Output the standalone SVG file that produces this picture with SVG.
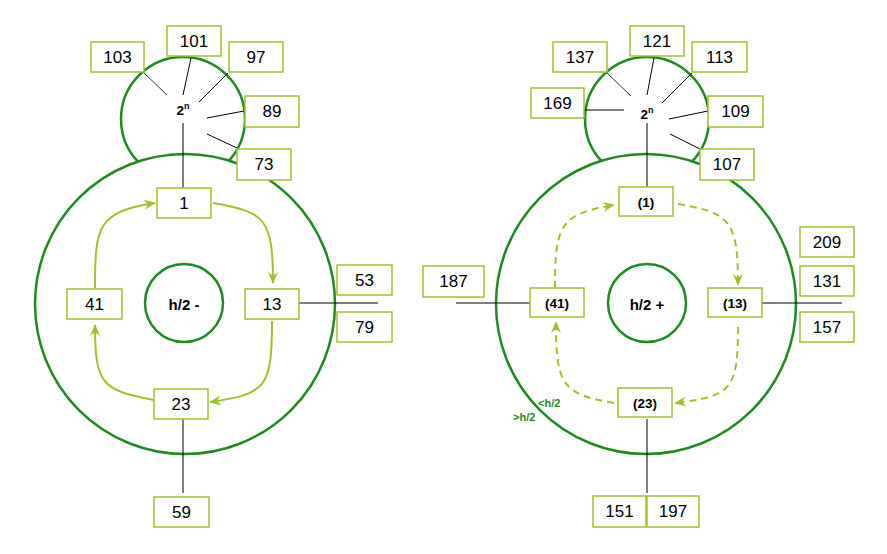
<svg xmlns="http://www.w3.org/2000/svg" width="887" height="554" viewBox="0 0 887 554">
<style>
.bg{fill:#ffffff}
.ring{fill:#ffffff;stroke:#1f8a1f;stroke-width:2.5}
.box{fill:#ffffff;stroke:#9dc32c;stroke-width:1.5}
.t{font-family:"Liberation Sans",Arial,sans-serif;font-size:17px;fill:#000;text-anchor:middle;dominant-baseline:central}
.tb{font-family:"Liberation Sans",Arial,sans-serif;font-size:13.5px;font-weight:bold;fill:#000;text-anchor:middle;dominant-baseline:central}
.hl{font-family:"Liberation Sans",Arial,sans-serif;font-size:15px;font-weight:bold;fill:#000;text-anchor:middle;dominant-baseline:central}
.lim{font-family:"Liberation Sans",Arial,sans-serif;font-size:11px;font-weight:bold;fill:#1f8a1f}
.ln{stroke:#000;stroke-width:1;fill:none}
.lg{stroke:#333;stroke-width:1;fill:none}
.arr{stroke:#9dc32c;stroke-width:2;fill:none;marker-end:url(#ah)}
.arrd{stroke:#9dc32c;stroke-width:2;fill:none;stroke-dasharray:7,5;marker-end:url(#ah)}
</style>
<defs>
<marker id="ah" viewBox="0 0 12 10" refX="11" refY="5" markerWidth="12" markerHeight="10" markerUnits="userSpaceOnUse" orient="auto">
<path d="M0,0 L12,5 L0,10 L4,5 Z" fill="#9dc32c"/>
</marker>
</defs>
<rect class="bg" x="0" y="0" width="887" height="554"/>

<g id="left-rings">
<circle class="ring" cx="183" cy="119" r="62"/>
<circle class="ring" cx="185" cy="304" r="150"/>
<circle class="ring" cx="184" cy="303" r="39"/>
</g>
<g id="right-rings">
<circle class="ring" cx="647" cy="119" r="62"/>
<circle class="ring" cx="646" cy="304" r="150"/>
<circle class="ring" cx="647" cy="303" r="39"/>
</g>

<g id="connectors">
<line class="lg" x1="143" y1="72" x2="167" y2="95"/>
<line class="ln" x1="191" y1="58" x2="183" y2="95"/>
<line class="ln" x1="228" y1="73" x2="199" y2="102"/>
<line class="ln" x1="244" y1="111" x2="207" y2="118"/>
<line class="ln" x1="237" y1="148" x2="207" y2="134"/>
<line class="ln" x1="183" y1="123" x2="183" y2="188"/>
<line class="ln" x1="299" y1="303" x2="378" y2="303"/>
<line class="ln" x1="183" y1="419" x2="183" y2="493"/>
<line class="lg" x1="606" y1="72" x2="631" y2="96"/>
<line class="ln" x1="654" y1="58" x2="647" y2="95"/>
<line class="ln" x1="692" y1="73" x2="662" y2="103"/>
<line class="ln" x1="584" y1="110" x2="624" y2="110"/>
<line class="ln" x1="708" y1="111" x2="669" y2="119"/>
<line class="ln" x1="700" y1="149" x2="670" y2="134"/>
<line class="ln" x1="647" y1="123" x2="647" y2="188"/>
<line class="ln" x1="456" y1="303" x2="530" y2="303"/>
<line class="ln" x1="762" y1="303" x2="842" y2="303"/>
<line class="ln" x1="647" y1="419" x2="647" y2="493"/>
<path class="arr" d="M95,288 C95,225 98,212 155,203"/>
<path class="arr" d="M213,203 C265,212 273,218 273,283"/>
<path class="arr" d="M272,321 C272,388 266,394 210,402"/>
<path class="arr" d="M154,400 C102,390 95,385 95,325"/>
<path class="arrd" d="M555,288 C555,225 560,214 614,205"/>
<path class="arrd" d="M678,204 C730,213 738,220 738,285"/>
<path class="arrd" d="M738,327 C738,392 730,396 675,403"/>
<path class="arrd" d="M614,403 C562,394 556,385 556,322"/>
</g>

<g id="left-power">
<text x="183" y="110" class="tb">2<tspan font-size="9" dy="-4">n</tspan></text>
</g>
<g id="right-power">
<text x="647" y="114" class="tb">2<tspan font-size="9" dy="-4">n</tspan></text>
</g>

<g id="n103"><rect class="box" x="91" y="42" width="53" height="30"/><text class="t" x="117.5" y="57">103</text></g>
<g id="n101"><rect class="box" x="167" y="26" width="54" height="30"/><text class="t" x="194" y="41">101</text></g>
<g id="n97"><rect class="box" x="229" y="42" width="54" height="30"/><text class="t" x="256" y="57">97</text></g>
<g id="n89"><rect class="box" x="245" y="96" width="54" height="31"/><text class="t" x="272" y="111.5">89</text></g>
<g id="n73"><rect class="box" x="237" y="149" width="54" height="31"/><text class="t" x="264" y="164.5">73</text></g>

<g id="n1"><rect class="box" x="157" y="188" width="54" height="30"/><text class="t" x="184" y="203">1</text></g>
<g id="n41"><rect class="box" x="67" y="289" width="55" height="30"/><text class="t" x="94.5" y="304">41</text></g>
<g id="n13"><rect class="box" x="245" y="289" width="54" height="30"/><text class="t" x="272" y="304">13</text></g>
<g id="n23"><rect class="box" x="154" y="389" width="54" height="30"/><text class="t" x="181" y="404">23</text></g>
<g id="n53"><rect class="box" x="337" y="265" width="55" height="30"/><text class="t" x="364.5" y="280">53</text></g>
<g id="n79"><rect class="box" x="337" y="312" width="55" height="30"/><text class="t" x="364.5" y="327">79</text></g>
<g id="n59"><rect class="box" x="154" y="497" width="55" height="30"/><text class="t" x="181.5" y="512">59</text></g>
<g id="hminus"><text class="hl" x="184" y="304">h/2 -</text></g>

<g id="n137"><rect class="box" x="553" y="42" width="54" height="30"/><text class="t" x="580" y="57">137</text></g>
<g id="n121"><rect class="box" x="630" y="26" width="54" height="30"/><text class="t" x="657" y="41">121</text></g>
<g id="n113"><rect class="box" x="692" y="42" width="55" height="30"/><text class="t" x="719.5" y="57">113</text></g>
<g id="n169"><rect class="box" x="531" y="88" width="53" height="30"/><text class="t" x="557.5" y="103">169</text></g>
<g id="n109"><rect class="box" x="708" y="96" width="55" height="31"/><text class="t" x="735.5" y="111.5">109</text></g>
<g id="n107"><rect class="box" x="700" y="149" width="54" height="31"/><text class="t" x="727" y="164.5">107</text></g>

<g id="p1"><rect class="box" x="619" y="187" width="54" height="29"/><text class="tb" x="646" y="202">(1)</text></g>
<g id="p41"><rect class="box" x="530" y="288" width="54" height="29"/><text class="tb" x="557" y="303">(41)</text></g>
<g id="p13"><rect class="box" x="708" y="288" width="54" height="29"/><text class="tb" x="735" y="303">(13)</text></g>
<g id="p23"><rect class="box" x="618" y="388" width="54" height="29"/><text class="tb" x="645" y="403">(23)</text></g>
<g id="n187"><rect class="box" x="423" y="266" width="61" height="31"/><text class="t" x="453.5" y="281.5">187</text></g>
<g id="n209"><rect class="box" x="800" y="227" width="54" height="30"/><text class="t" x="827" y="242">209</text></g>
<g id="n131"><rect class="box" x="800" y="266" width="54" height="30"/><text class="t" x="827" y="281">131</text></g>
<g id="n157"><rect class="box" x="800" y="312" width="54" height="30"/><text class="t" x="827" y="327">157</text></g>
<g id="n151"><rect class="box" x="593" y="496" width="53" height="31"/><text class="t" x="619.5" y="511.5">151</text></g>
<g id="n197"><rect class="box" x="647" y="496" width="52" height="31"/><text class="t" x="673" y="511.5">197</text></g>
<g id="hplus"><text class="hl" x="647" y="304">h/2 +</text></g>
<g id="limits"><text class="lim" x="538" y="407">&lt;h/2</text><text class="lim" x="513" y="421">&gt;h/2</text></g>
</svg>
